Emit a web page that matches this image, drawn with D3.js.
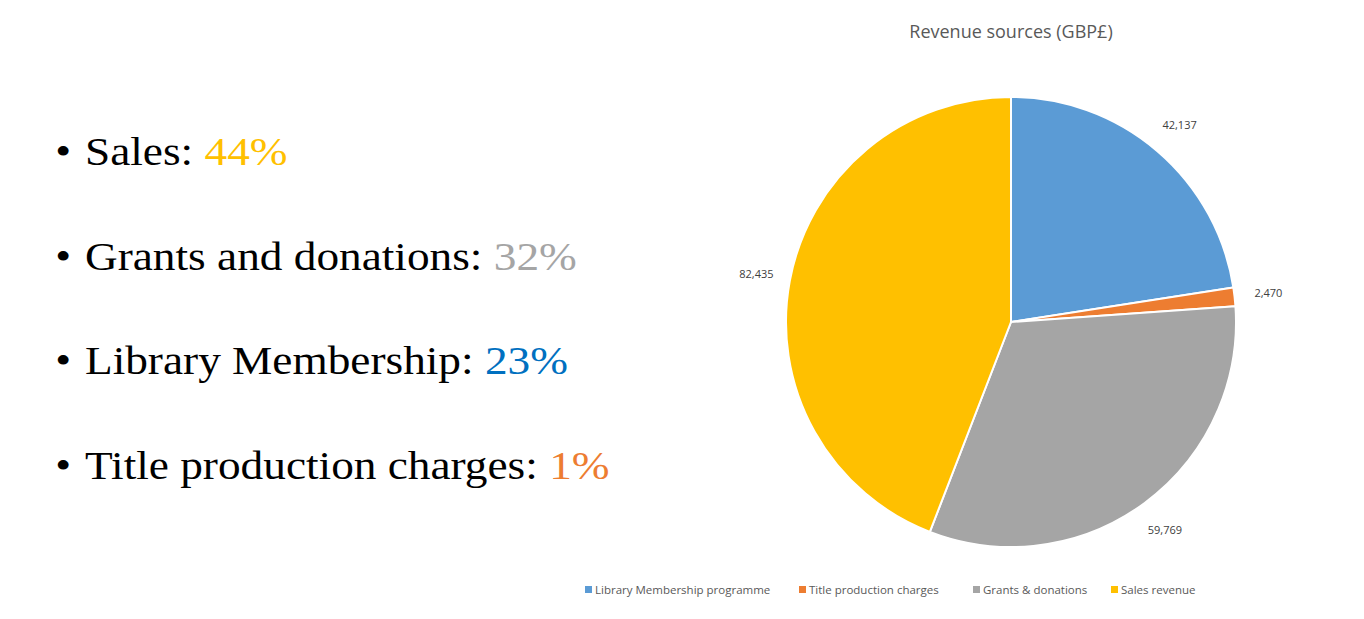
<!DOCTYPE html>
<html><head><meta charset="utf-8">
<script src="https://cdn.jsdelivr.net/npm/d3@7"></script>
<style>body{margin:0;background:#fff;}svg{display:block;}</style>
</head><body>
<svg id="c" width="1364" height="619"></svg>
<script>
const categories = ["Library Membership programme", "Title production charges", "Grants & donations", "Sales revenue"];
const values = [42137, 2470, 59769, 82435];
const colors = ["#5B9BD5", "#ED7D31", "#A5A5A5", "#FFC000"];
const bulletLabels = ["Sales: ", "Grants and donations: ", "Library Membership: ", "Title production charges: "];
const bulletPcts = ["44%", "32%", "23%", "1%"];
const bulletColors = ["#FFC000", "#A5A5A5", "#0070C0", "#ED7D31"];
const title = "Revenue sources (GBP£)";

const svg = d3.select("#c");

// Bullet list
const by = d3.scalePoint().domain(d3.range(bulletLabels.length)).range([165, 479]);
bulletLabels.forEach((t, i) => {
  const g = svg.append("text").attr("x", 58).attr("y", by(i))
    .attr("font-family", "Liberation Serif, Times New Roman, serif").attr("font-size", 41).attr("fill", "#000")
    .attr("transform", "translate(85,0) scale(1.105,1) translate(-85,0)");
  g.append("tspan").text("•");
  g.append("tspan").attr("x", 85).text(t);
  g.append("tspan").attr("fill", bulletColors[i]).text(bulletPcts[i]);
});

// Title
svg.append("text").attr("x", 1011).attr("y", 38).attr("text-anchor", "middle")
  .attr("font-family", "Open Sans, Liberation Sans, sans-serif").attr("font-size", 18)
  .attr("fill", "#595959").text(title);

// Pie
const cx = 1011, cy = 322, r = 225;
const pie = d3.pie().sort(null).value(d => d)(values);
const arc = d3.arc().innerRadius(0).outerRadius(r);
const labelArc = d3.arc().innerRadius(r + 34).outerRadius(r + 34);
const pg = svg.append("g").attr("transform", `translate(${cx},${cy})`);
pg.selectAll("path").data(pie).join("path")
  .attr("d", arc).attr("fill", (d, i) => colors[i])
  .attr("stroke", "#fff").attr("stroke-width", 2).attr("stroke-linejoin", "round");
const fmt = d3.format(",");
pg.selectAll("text").data(pie).join("text")
  .attr("transform", d => { const c = labelArc.centroid(d); return `translate(${c[0]},${c[1]})`; })
  .attr("text-anchor", "middle").attr("dy", "0.35em")
  .attr("font-family", "Open Sans, Liberation Sans, sans-serif").attr("font-size", 11)
  .attr("fill", "#404040").text(d => fmt(d.data));

// Legend
const legendX = [585, 799, 973, 1111];
const lg = svg.append("g");
categories.forEach((c, i) => {
  lg.append("rect").attr("x", legendX[i]).attr("y", 586).attr("width", 7).attr("height", 7).attr("fill", colors[i]);
  lg.append("text").attr("x", legendX[i] + 10).attr("y", 594)
    .attr("font-family", "Open Sans, Liberation Sans, sans-serif").attr("font-size", 11.5)
    .attr("fill", "#595959").text(c);
});
</script>
</body></html>
